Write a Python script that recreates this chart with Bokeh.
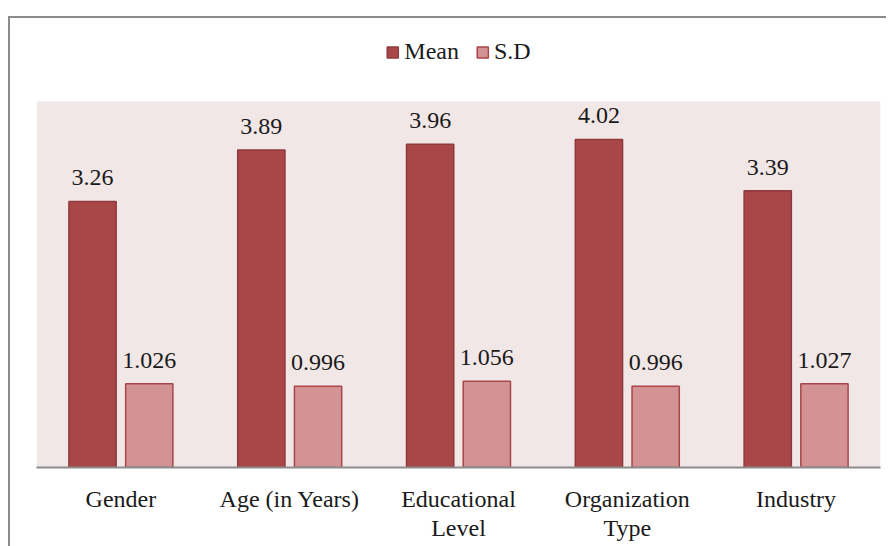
from bokeh.plotting import figure
from bokeh.models import (ColumnDataSource, FactorRange, Range1d, Legend, LegendItem, LabelSet,
                          BoxAnnotation)
from bokeh.transform import dodge
from bokeh.embed import file_html
from bokeh.resources import INLINE

categories = ["Gender", "Age (in Years)", "Educational\nLevel", "Organization\nType", "Industry"]
mean_vals = [3.26, 3.89, 3.96, 4.02, 3.39]
sd_vals = [1.026, 0.996, 1.056, 0.996, 1.027]
mean_text = ["3.26", "3.89", "3.96", "4.02", "3.39"]
sd_text = ["1.026", "0.996", "1.056", "0.996", "1.027"]

FONT = "Liberation Serif"
FS = "24px"
Y_PLOT_TOP = 4.485
Y_TOP = Y_PLOT_TOP * 429 / 366

src = ColumnDataSource(dict(cat=categories, mean=mean_vals, sd=sd_vals,
                            mean_t=mean_text, sd_t=sd_text))

p = figure(x_range=FactorRange(*categories), y_range=Range1d(0, Y_TOP),
           frame_width=844, frame_height=429, output_backend="svg", toolbar_location=None,
           min_border_left=26, min_border_right=6, min_border_top=20, min_border_bottom=79)
p.styles = {"margin-left": "8px", "margin-top": "16px",
            "border-left": "2px solid #8c8c8c", "border-top": "2px solid #8c8c8c"}
p.background_fill_color = "white"
p.border_fill_color = "white"
p.outline_line_color = None
p.xgrid.grid_line_color = None
p.ygrid.grid_line_color = None
p.yaxis.visible = False
p.x_range.range_padding = 0.0

p.add_layout(BoxAnnotation(bottom=0, top=Y_PLOT_TOP, fill_color="#F2E7E7", fill_alpha=1.0,
                           line_color=None, level="underlay"))

r1 = p.vbar(x=dodge("cat", -0.168, range=p.x_range), top="mean", width=0.28, source=src,
            fill_color="#A84648", line_color="#8E3B3D", line_width=1.5)
r2 = p.vbar(x=dodge("cat", 0.168, range=p.x_range), top="sd", width=0.28, source=src,
            fill_color="#D39293", line_color="#A84648", line_width=1.5)

l1 = LabelSet(x=dodge("cat", -0.168, range=p.x_range), y="mean", text="mean_t", source=src,
              text_align="center", text_baseline="bottom", y_offset=16,
              text_font=FONT, text_font_size=FS, text_color="#1a1a1a")
l2 = LabelSet(x=dodge("cat", 0.168, range=p.x_range), y="sd", text="sd_t", source=src,
              text_align="center", text_baseline="bottom", y_offset=16,
              text_font=FONT, text_font_size=FS, text_color="#1a1a1a")
p.add_layout(l1)
p.add_layout(l2)

ax = p.xaxis[0]
ax.axis_line_color = "#8c8c8c"
ax.axis_line_width = 2
ax.major_tick_line_color = None
ax.minor_tick_line_color = None
ax.major_label_text_font = FONT
ax.major_label_text_font_size = FS
ax.major_label_text_color = "#1a1a1a"
ax.major_label_text_line_height = 1.15
ax.major_label_standoff = 12

legend = Legend(items=[LegendItem(label="Mean", renderers=[r1]),
                       LegendItem(label="S.D", renderers=[r2])],
                orientation="horizontal", location="top_center",
                label_text_font=FONT, label_text_font_size=FS, label_text_color="#1a1a1a",
                glyph_width=14, glyph_height=14, label_standoff=5, spacing=16,
                border_line_color=None, background_fill_alpha=0,
                margin=0, padding=0)
p.add_layout(legend)

open("out.html", "w").write(file_html(p, INLINE))
